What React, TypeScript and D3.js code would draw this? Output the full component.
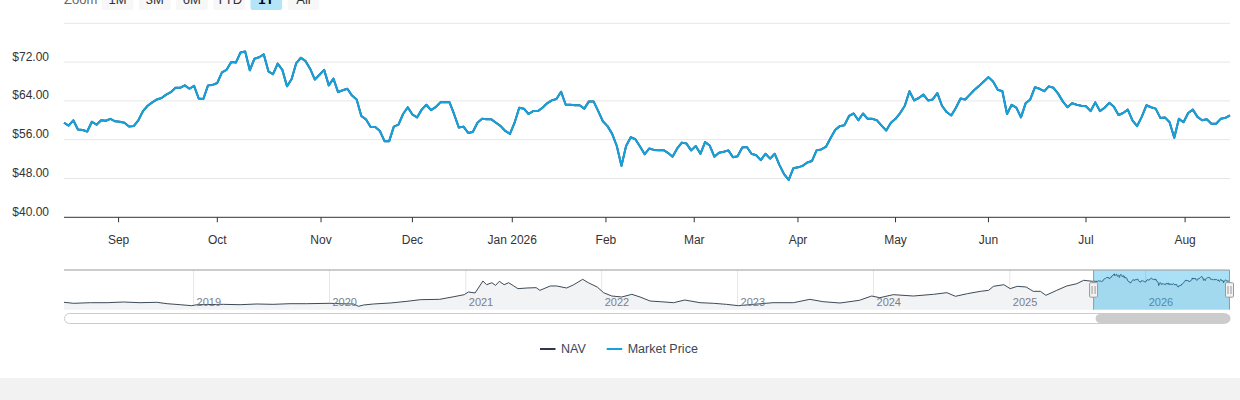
import * as d3 from 'd3';
import React from 'react';

// trading calendar for the 1Y window (ordinal x axis, no weekends / market holidays)
const startDate = '2025-08-14';
const endDate = '2026-08-14';
const marketHolidays = [
  '2025-09-01', '2025-11-27', '2025-12-25', '2026-01-01', '2026-01-19',
  '2026-02-16', '2026-04-03', '2026-05-25', '2026-06-19', '2026-07-03',
];

// daily market price, one value per trading day, month by month
const aug25 = [59.5, 58.9, 60.0, 58.1, 58.0, 57.7, 59.7, 59.1, 60.0, 59.9, 60.3, 59.8];
const sep25 = [59.7, 59.5, 58.7, 58.8, 60.0, 61.9, 63.0, 63.7, 64.3, 64.6, 65.3, 65.8, 66.7, 66.7, 67.2, 66.5, 67.1, 64.5, 64.4, 67.2, 67.3];
const oct25 = [67.7, 69.9, 70.4, 72.0, 71.9, 74.0, 74.2, 70.3, 72.7, 73.0, 73.6, 70.1, 69.5, 71.7, 70.4, 67.0, 68.5, 71.8, 72.9, 72.2, 70.6, 68.4, 69.4];
const nov25 = [70.4, 67.2, 68.6, 65.8, 66.2, 66.5, 65.1, 64.3, 60.9, 60.2, 58.6, 58.6, 57.8, 55.7, 55.7, 58.7, 59.1, 61.3, 62.7];
const dec25 = [61.2, 60.6, 62.2, 63.2, 62.1, 62.7, 63.7, 63.7, 63.7, 61.2, 58.5, 58.7, 57.4, 57.6, 59.5, 60.3, 60.2, 60.2, 59.5, 58.8, 57.8, 57.2];
const jan26 = [59.5, 62.6, 62.4, 61.3, 61.9, 61.9, 62.6, 63.5, 64.1, 64.4, 65.9, 63.2, 63.2, 63.1, 63.1, 62.4, 63.9, 63.9, 61.9, 59.8];
const feb26 = [58.8, 57.2, 54.7, 50.6, 54.7, 56.5, 56.1, 54.6, 53.0, 54.2, 53.9, 53.8, 53.9, 53.3, 52.5, 54.2, 55.4, 55.2, 53.8];
const mar26 = [54.7, 53.1, 55.5, 54.8, 52.5, 53.3, 53.5, 53.8, 52.4, 52.6, 54.4, 54.5, 53.1, 52.8, 51.8, 53.1, 52.1, 53.1, 50.8, 48.9, 47.7, 50.1];
const apr26 = [50.3, 50.6, 51.3, 51.6, 53.8, 54.0, 54.5, 56.3, 58.0, 58.8, 59.0, 60.9, 61.4, 60.0, 61.4, 60.3, 60.3, 60.0, 58.9, 57.9, 59.5];
const may26 = [60.3, 61.5, 63.0, 66.0, 64.1, 64.6, 65.3, 64.1, 64.3, 65.6, 63.0, 61.7, 61.0, 62.6, 64.5, 64.3, 65.3, 66.3, 67.1, 68.0];
const jun26 = [68.9, 68.0, 66.3, 66.0, 61.3, 63.2, 62.6, 60.6, 63.5, 64.3, 66.8, 66.5, 66.0, 67.0, 66.7, 65.5, 63.9, 62.7, 63.5, 63.2, 63.0];
const jul26 = [62.9, 61.9, 63.7, 61.9, 62.6, 63.6, 62.8, 61.1, 61.5, 62.2, 60.0, 58.8, 60.7, 63.1, 62.7, 62.4, 60.5, 60.6, 59.6, 56.4, 60.3, 59.6];
const aug26 = [61.5, 62.2, 60.7, 60.0, 60.2, 59.3, 59.3, 60.3, 60.5, 61.0];

// NAV tracks the market price almost exactly at this scale
const navValues = [aug25, sep25, oct25, nov25, dec25, jan26, feb26, mar26, apr26, may26, jun26, jul26, aug26].flat();
const priceValues = [aug25, sep25, oct25, nov25, dec25, jan26, feb26, mar26, apr26, may26, jun26, jul26, aug26].flat();

// longer history shown in the navigator
const historyDates = [
  '2018-01-18', '2018-02-13', '2018-03-30', '2018-05-14', '2018-06-27', '2018-08-10', '2018-09-24', '2018-10-22', '2018-11-26', '2018-12-27',
  '2019-01-10', '2019-03-22', '2019-05-06', '2019-06-20', '2019-08-02', '2019-09-17', '2019-11-01',
  '2020-01-02', '2020-01-29', '2020-03-06', '2020-03-19', '2020-04-01', '2020-04-28', '2020-06-12', '2020-07-27', '2020-09-01', '2020-10-23', '2020-11-30', '2020-12-28',
  '2021-01-08', '2021-01-26', '2021-02-16', '2021-02-26', '2021-03-12', '2021-03-22', '2021-04-01', '2021-04-14', '2021-04-26', '2021-05-10', '2021-05-21', '2021-06-14', '2021-07-09', '2021-07-19', '2021-08-16', '2021-09-02', '2021-09-29', '2021-10-18', '2021-11-11', '2021-11-26', '2021-12-20',
  '2022-01-06', '2022-01-28', '2022-02-24', '2022-03-23', '2022-04-14', '2022-05-11', '2022-06-07', '2022-07-13', '2022-08-12', '2022-09-22', '2022-10-28', '2022-12-02',
  '2023-01-03', '2023-02-13', '2023-04-06', '2023-05-31', '2023-07-14', '2023-08-18', '2023-10-03', '2023-11-24', '2023-12-27',
  '2024-01-18', '2024-02-23', '2024-04-17', '2024-06-10', '2024-07-16', '2024-08-08', '2024-09-09', '2024-10-14', '2024-11-05', '2024-11-18', '2024-12-16',
  '2025-01-02', '2025-01-21', '2025-02-14', '2025-03-05', '2025-03-24', '2025-04-08', '2025-05-07', '2025-06-03', '2025-06-30', '2025-07-18', '2025-08-12',
];
const historyValues = [
  16.9, 14.9, 16.1, 16.1, 17.5, 16.1, 16.9, 14.1, 12.1, 10.1,
  12.1, 12.8, 12.1, 13.5, 12.8, 14.1, 14.1,
  14.9, 14.1, 13.5, 8.8, 11.4, 13.5, 15.5, 18.9, 22.2, 22.9, 28.2, 32.3,
  37.7, 35.7, 59.8, 52.4, 56.4, 51.0, 59.2, 52.4, 56.4, 49.8, 44.4, 45.7, 46.4, 41.0, 49.8, 49.8, 45.7, 52.4, 63.2, 56.4, 47.7,
  36.3, 29.6, 27.6, 33.0, 27.6, 19.5, 18.2, 16.1, 21.5, 16.1, 14.9, 12.8,
  10.1, 12.8, 16.1, 16.1, 22.9, 18.2, 15.5, 20.9, 29.6,
  26.2, 32.3, 29.6, 33.0, 36.3, 29.0, 34.3, 39.0, 41.0, 49.1, 52.4,
  44.4, 49.1, 47.7, 39.0, 39.0, 31.0, 41.0, 49.8, 54.4, 61.2, 59.2,
];
const navYDomain = [2, 82];

const yTicks = [40, 48, 56, 64, 72, 80];
const monthTicks = ['2025-09-01', '2025-10-01', '2025-11-01', '2025-12-01', '2026-01-01', '2026-02-01', '2026-03-01', '2026-04-01', '2026-05-01', '2026-06-01', '2026-07-01', '2026-08-01'];
const monthLabels = ['Sep', 'Oct', 'Nov', 'Dec', 'Jan 2026', 'Feb', 'Mar', 'Apr', 'May', 'Jun', 'Jul', 'Aug'];
const zoomButtons = ['1M', '3M', '6M', 'YTD', '1Y', 'All'];
const selectedButton = '1Y';
const seriesNames = ['NAV', 'Market Price'];

const NAV_COLOR = '#2b3a4b';
const PRICE_COLOR = '#14a2de';
const FONT = '"Liberation Sans", Arial, Helvetica, sans-serif';

const parse = d3.utcParse('%Y-%m-%d');
const fmt = d3.utcFormat('%Y-%m-%d');

const holidaySet = new Set(marketHolidays);
const tradingDays = d3.utcDay
  .range(parse(startDate)!, d3.utcDay.offset(parse(endDate)!, 1))
  .filter(d => d.getUTCDay() % 6 !== 0 && !holidaySet.has(fmt(d)));

// fractional ordinal index of any calendar date
const ordinalIndex = (d: Date) => {
  const i = d3.bisectRight(tradingDays, d) - 1;
  if (i < 0) return 0;
  if (i >= tradingDays.length - 1) return tradingDays.length - 1;
  const a = +tradingDays[i];
  const b = +tradingDays[i + 1];
  return i + (+d - a) / (b - a);
};

const App: React.FC = () => {
  const width = 1240;
  const height = 400;
  const plot = { left: 64, right: 1230, top: 23.3, bottom: 217.3 };
  const nav = { top: 270, bottom: 309.7, right: 1229.5 };

  const x = d3.scaleLinear().domain([0, tradingDays.length - 1]).range([plot.left, plot.right]);
  const y = d3.scaleLinear().domain([40, 80]).range([plot.bottom, plot.top]);

  const line = d3.line<number>().x((_, i) => x(i)).y(v => y(v));

  const navSeries: [Date, number][] = [
    ...historyDates.map((d, i) => [parse(d)!, historyValues[i]] as [Date, number]),
    ...tradingDays.map((d, i) => [d, priceValues[i]] as [Date, number]),
  ];
  const nx = d3.scaleUtc().domain([navSeries[0][0], navSeries[navSeries.length - 1][0]]).range([plot.left, nav.right]);
  const ny = d3.scaleLinear().domain(navYDomain).range([nav.bottom, nav.top]);
  const navLine = d3.line<[Date, number]>().x(d => nx(d[0])).y(d => ny(d[1]));
  const navArea = d3.area<[Date, number]>().x(d => nx(d[0])).y0(nav.bottom).y1(d => ny(d[1]));
  const years = nx.ticks(d3.utcYear.every(1)!).filter(d => nx(d) > plot.left + 5);

  const selX0 = nx(tradingDays[0]);
  const selX1 = nx(tradingDays[tradingDays.length - 1]);

  return (
    <svg width={width} height={height} style={{ position: 'absolute', left: 0, top: 0, fontFamily: FONT }}>
      <rect x={0} y={0} width={width} height={height} fill="#fff" />
      <rect x={0} y={378} width={width} height={22} fill="#f2f2f2" />

      {/* range selector */}
      <text x={64} y={4} fontSize={13} fill="#666">Zoom</text>
      {zoomButtons.map((b, i) => {
        const bx = 101.7 + i * 37.2;
        const sel = b === selectedButton;
        return (
          <g key={b}>
            <rect x={bx} y={-12} width={31.6} height={22} rx={2} fill={sel ? '#b3e4f8' : '#f7f7f7'} />
            <text x={bx + 15.8} y={4} fontSize={13} textAnchor="middle" fill={sel ? '#000' : '#333'} fontWeight={sel ? 'bold' : 'normal'}>{b}</text>
          </g>
        );
      })}

      {/* grid + y axis */}
      {yTicks.map(t => (
        <g key={t}>
          {t > 40 && <line x1={plot.left} x2={plot.right} y1={y(t)} y2={y(t)} stroke="#e6e6e6" />}
          {t < 80 && (
            <text x={49} y={y(t) - 1.5} fontSize={12} textAnchor="end" fill="#333">
              {d3.format('$.2f')(t)}
            </text>
          )}
        </g>
      ))}

      {/* x axis */}
      <line x1={plot.left} x2={plot.right} y1={plot.bottom} y2={plot.bottom} stroke="#333" />
      {monthTicks.map((m, i) => {
        const tx = x(ordinalIndex(parse(m)!));
        return (
          <g key={m}>
            <line x1={tx} x2={tx} y1={plot.bottom} y2={plot.bottom + 5} stroke="#333" />
            <text x={tx} y={243.5} fontSize={12} textAnchor="middle" fill="#333">{monthLabels[i]}</text>
          </g>
        );
      })}

      {/* series */}
      <path d={line(navValues) ?? ''} fill="none" stroke={NAV_COLOR} strokeWidth={2} strokeLinejoin="round" />
      <path d={line(priceValues) ?? ''} fill="none" stroke={PRICE_COLOR} strokeWidth={2} strokeLinejoin="round" />

      {/* navigator */}
      {years.map(d => (
        <line key={+d} x1={nx(d)} x2={nx(d)} y1={nav.top} y2={nav.bottom} stroke="#e6e6e6" />
      ))}
      <path d={navArea(navSeries) ?? ''} fill="#f2f3f5" />
      <path d={navLine(navSeries) ?? ''} fill="none" stroke="#3d4a57" strokeWidth={1} />
      {years.map(d => (
        <text key={'l' + +d} x={nx(d) + 3} y={305.5} fontSize={11} fill="#7a8089">{d3.utcFormat('%Y')(d)}</text>
      ))}
      <rect x={selX0} y={nav.top} width={selX1 - selX0} height={nav.bottom - nav.top} fill="rgb(0,164,228)" fillOpacity={0.33} />
      <path
        d={`M${plot.left},${nav.top}H${selX0}V${nav.bottom}M${selX0},${nav.top}H${selX1}V${nav.bottom}`}
        fill="none"
        stroke="#999"
        strokeWidth={1}
      />
      {[selX0, selX1].map((hx, i) => (
        <g key={i}>
          <rect x={hx - 4} y={282.7} width={8} height={14.5} rx={1} fill="#f2f2f2" stroke="#999" />
          <line x1={hx - 1.5} x2={hx - 1.5} y1={286} y2={294} stroke="#999" />
          <line x1={hx + 1.5} x2={hx + 1.5} y1={286} y2={294} stroke="#999" />
        </g>
      ))}

      {/* scrollbar */}
      <rect x={plot.left + 0.5} y={313.5} width={plot.right - plot.left - 1} height={10} rx={5} fill="#fff" stroke="#ccc" />
      <rect x={selX0 + 2} y={314} width={selX1 - selX0 - 1} height={9} rx={4.5} fill="#cccccc" />

      {/* legend */}
      {seriesNames.map((s, i) => {
        const lx = i === 0 ? 540 : 606.7;
        return (
          <g key={s}>
            <line x1={lx} x2={lx + 15.5} y1={349} y2={349} stroke={i === 0 ? NAV_COLOR : PRICE_COLOR} strokeWidth={2} />
            <text x={lx + 21} y={353.3} fontSize={12.5} fill="#3a4756">{s}</text>
          </g>
        );
      })}
    </svg>
  );
};

export default App;
